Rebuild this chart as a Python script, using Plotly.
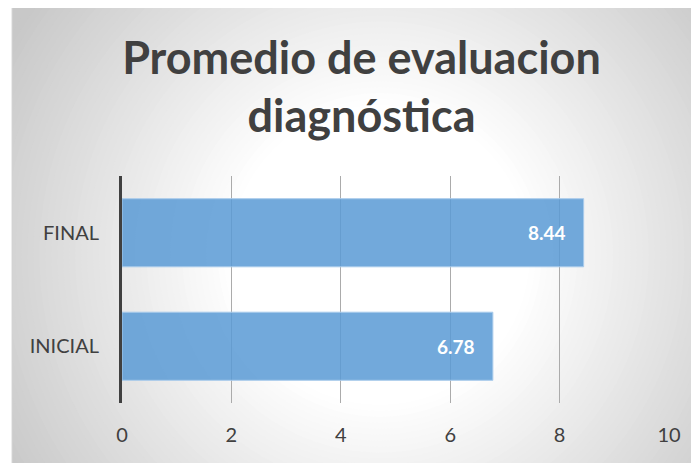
import plotly.graph_objects as go

categories = ["INICIAL", "FINAL"]
values = [6.78, 8.44]
labels = ["6.78", "8.44"]
x_ticks = [0, 2, 4, 6, 8, 10]

# The page body adds an 8px offset, so layout pixels = reference pixels - 8
OFF = 8
W, H = 699, 463
L, R, T, B = 122 - OFF, 699 - (669.5 - OFF), 176 - OFF, 463 - (403 - OFF)
pw = W - L - R
ph = H - T - B

def px_x(px):
    return (px - OFF - L) / pw

def px_y(py):
    return (H - B - (py - OFF)) / ph

fig = go.Figure()
fig.add_trace(go.Bar(
    y=categories, x=values, orientation="h",
    marker=dict(color="rgba(91,155,213,0.86)", line=dict(color="#A9CBEB", width=1)),
    hoverinfo="skip", showlegend=False,
))

annotations = []
for c, v, t in zip(categories, values, labels):
    annotations.append(dict(
        x=v, y=c, xref="x", yref="y", text="<b>%s</b>" % t, showarrow=False,
        xanchor="right", xshift=-16,
        font=dict(family="Lato", size=19, color="white"),
    ))

# background: radial gradient via concentric circles (reference pixel coords)
shapes = []
shapes.append(dict(type="rect", xref="paper", yref="paper",
                   x0=px_x(-20), x1=px_x(W + 30), y0=px_y(H + 30), y1=px_y(-20),
                   fillcolor="rgb(200,200,200)", line=dict(width=0), layer="below"))
cx, cy = 380, 255
steps = 48
rmax, rwhite = 430, 150
g_out, g_in = 200, 255
for i in range(steps):
    f = i / (steps - 1)
    r = rmax - (rmax - rwhite) * f
    g = int(round(g_out + (g_in - g_out) * f))
    col = "rgb(%d,%d,%d)" % (g, g, g)
    shapes.append(dict(type="circle", xref="paper", yref="paper",
                       x0=px_x(cx - r), x1=px_x(cx + r), y0=px_y(cy + r), y1=px_y(cy - r),
                       fillcolor=col, line=dict(width=0), layer="below"))
# white strip left of the chart border
shapes.append(dict(type="rect", xref="paper", yref="paper",
                   x0=px_x(-20), x1=px_x(12), y0=px_y(H + 30), y1=px_y(-20),
                   fillcolor="white", line=dict(width=0), layer="below"))
# chart border
shapes.append(dict(type="rect", xref="paper", yref="paper",
                   x0=px_x(12), x1=px_x(W + 20), y0=px_y(H + 20), y1=px_y(5),
                   fillcolor="rgba(0,0,0,0)", line=dict(color="#D0D0D0", width=1), layer="below"))

fig.update_layout(
    width=W, height=H,
    margin=dict(l=L, r=R, t=T, b=B, pad=0),
    paper_bgcolor="white",
    plot_bgcolor="rgba(0,0,0,0)",
    title=dict(text="<b>Promedio de evaluacion<br>diagnóstica</b>",
               font=dict(family="Lato", size=45, color="#404040"),
               x=0.5057, xanchor="center", y=0.858, yanchor="middle"),
    bargap=0.4,
    showlegend=False,
    shapes=shapes,
    annotations=annotations,
    xaxis=dict(range=[0, 10], tickvals=x_ticks, ticktext=[str(t) for t in x_ticks],
               showgrid=True, gridcolor="#ABABAB", gridwidth=1, zeroline=False,
               showline=False, ticks="outside", ticklen=14, tickcolor="rgba(0,0,0,0)",
               tickfont=dict(family="Lato", size=20, color="#404040"), fixedrange=True),
    yaxis=dict(categoryorder="array", categoryarray=categories,
               showline=True, linecolor="#404040", linewidth=3, showgrid=False,
               ticks="outside", ticklen=16, tickcolor="rgba(0,0,0,0)",
               tickfont=dict(family="Lato", size=20, color="#404040"), fixedrange=True),
)

fig.write_html("out.html")
